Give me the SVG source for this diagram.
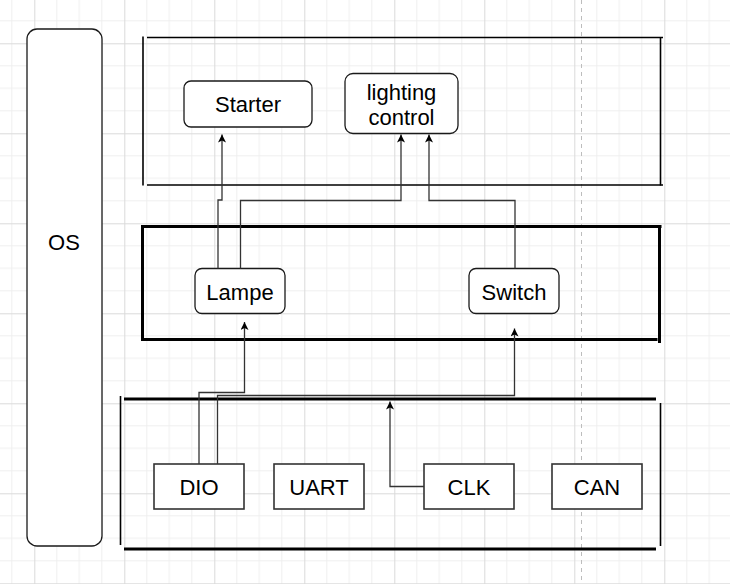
<svg xmlns="http://www.w3.org/2000/svg" width="730" height="584" viewBox="0 0 730 584">
<style>
  .t { font-family: "Liberation Sans", Arial, sans-serif; font-size: 22px; fill: #000; text-anchor: middle; }
  .node { fill: #fff; stroke: #1a1a1a; stroke-width: 1.3; }
  .sq { fill: #fff; stroke: #333; stroke-width: 1.6; }
  .thin { stroke: #000; stroke-width: 1.6; fill: none; }
  .thick { stroke: #000; stroke-width: 3; fill: none; stroke-linecap: square; }
  .conn { fill: none; stroke: #333; stroke-width: 1.3; marker-end: url(#arr); }
</style>
<defs>
  <pattern id="grid" x="34.3" y="43.3" width="90" height="90" patternUnits="userSpaceOnUse">
    <path d="M22.5,0V90M45,0V90M67.5,0V90M0,22.5H90M0,45H90M0,67.5H90" stroke="#efefef" stroke-width="1" fill="none"/>
    <path d="M0.5,0V90M0,0.5H90" stroke="#dadada" stroke-width="1" fill="none"/>
  </pattern>
  <marker id="arr" markerUnits="userSpaceOnUse" markerWidth="10" markerHeight="10" refX="8" refY="4" orient="auto">
    <path d="M0,0 L8,4 L0,8 L2,4 Z" fill="#000"/>
  </marker>
</defs>
<rect width="730" height="584" fill="#fff"/>
<rect width="730" height="584" fill="url(#grid)"/>
<line x1="581.5" y1="0" x2="581.5" y2="584" stroke="#bdbdbd" stroke-width="1" stroke-dasharray="4,4"/>

<g id="os">
  <rect x="27" y="29" width="75" height="517" rx="10" class="node"/>
  <text x="64" y="250" class="t">OS</text>
</g>

<g id="app-layer">
  <line x1="143" y1="36.5" x2="143" y2="185.5" class="thin"/>
  <line x1="147" y1="37.5" x2="663" y2="37.5" class="thin"/>
  <line x1="660.5" y1="37" x2="660.5" y2="185.5" class="thin"/>
  <line x1="147" y1="185" x2="663" y2="185" class="thin"/>
</g>

<g id="mid-layer">
  <line x1="142.5" y1="226.5" x2="660" y2="226.5" class="thick"/>
  <line x1="142.5" y1="226.5" x2="142.5" y2="339.5" class="thick"/>
  <line x1="142.5" y1="339.5" x2="656" y2="339.5" class="thick"/>
  <line x1="659.5" y1="226.5" x2="659.5" y2="341.5" class="thick"/>
</g>

<g id="hw-layer">
  <line x1="124" y1="399" x2="656" y2="399" stroke="#000" stroke-width="3"/>
  <line x1="120.5" y1="396" x2="120.5" y2="545" class="thin"/>
  <line x1="124" y1="549" x2="656" y2="549" stroke="#000" stroke-width="3"/>
  <line x1="660.5" y1="403" x2="660.5" y2="546" class="thin"/>
</g>

<g id="starter">
  <rect x="184" y="81" width="128" height="46" rx="7" class="node"/>
  <text x="248" y="111.5" class="t">Starter</text>
</g>
<g id="lighting-control">
  <rect x="345" y="73.5" width="113" height="60" rx="8" class="node"/>
  <text x="401.5" y="100" class="t">lighting</text>
  <text x="401.5" y="124.5" class="t">control</text>
</g>
<g id="lampe">
  <rect x="195" y="268.5" width="90" height="45" rx="7" class="node"/>
  <text x="240" y="299.5" class="t">Lampe</text>
</g>
<g id="switch">
  <rect x="469" y="268.5" width="90" height="45" rx="7" class="node"/>
  <text x="514" y="299.5" class="t">Switch</text>
</g>
<g id="dio">
  <rect x="154" y="464" width="90" height="45" class="sq"/>
  <text x="199" y="494.5" class="t">DIO</text>
</g>
<g id="uart">
  <rect x="274" y="464" width="90" height="45" class="sq"/>
  <text x="319" y="494.5" class="t">UART</text>
</g>
<g id="clk">
  <rect x="424" y="464" width="90" height="45" class="sq"/>
  <text x="469" y="494.5" class="t">CLK</text>
</g>
<g id="can">
  <rect x="552" y="464" width="90" height="45" class="sq"/>
  <text x="597" y="494.5" class="t">CAN</text>
</g>

<g id="connectors">
  <path d="M218,268.5 V200 H222 V134.5" class="conn"/>
  <path d="M240.5,268.5 V200.5 H401 V134.5" class="conn"/>
  <path d="M515,268.5 V200.5 H429 V134.5" class="conn"/>
  <path d="M199,464 V392.5 H244.5 V322" class="conn"/>
  <path d="M217.5,464 V395.5 H514.5 V328.5" class="conn"/>
  <path d="M424,486.5 H390 V401.5" class="conn"/>
</g>
</svg>
